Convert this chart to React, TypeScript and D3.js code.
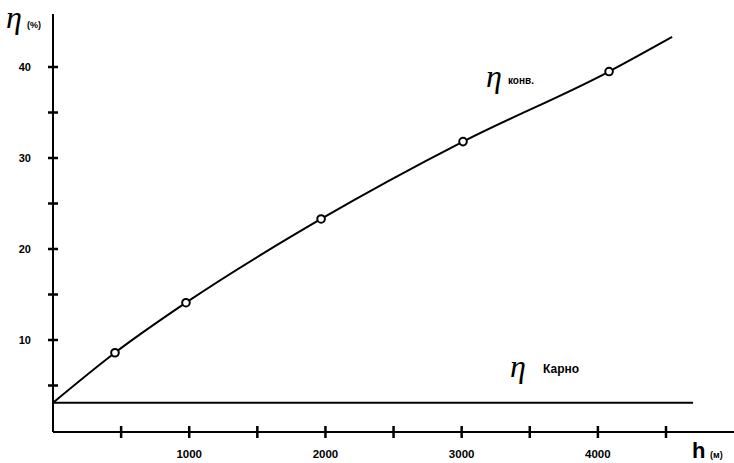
import * as d3 from "d3";

const W = 734;
const H = 463;

// efficiency curve (h in metres, eta in %)
const hValues = [0, 455, 976, 1968, 3010, 4082, 4545];
const etaValues = [3.1, 8.6, 14.1, 23.3, 31.8, 39.5, 43.3];
const markerIdx = [1, 2, 3, 4, 5];

const carnotValue = 3.1;
const xTicksMinor = [500, 1000, 1500, 2000, 2500, 3000, 3500, 4000, 4500];
const xTickLabels = [1000, 2000, 3000, 4000];
const yTicksMinor = [5, 10, 15, 20, 25, 30, 35, 40];
const yTickLabels = [10, 20, 30, 40];

export default function App() {
  const x = d3.scaleLinear().domain([0, 4500]).range([53, 666]);
  const y = d3.scaleLinear().domain([0, 45]).range([431, 21.5]);

  const pts = hValues.map((h, i) => ({ h, eta: etaValues[i] }));
  const line = d3
    .line<{ h: number; eta: number }>()
    .x((d) => x(d.h))
    .y((d) => y(d.eta))
    .curve(d3.curveMonotoneX);

  const axisY = 432;
  const sans = "Liberation Sans, Arial, sans-serif";
  const eta = "Liberation Serif, DejaVu Serif, serif";

  return (
    <svg
      width={W}
      height={H}
      style={{ position: "absolute", left: 0, top: 0, background: "#fff" }}
    >
      {/* axes */}
      <line x1={53} y1={14} x2={53} y2={axisY} stroke="#000" strokeWidth={2} />
      <line x1={53} y1={axisY} x2={734} y2={axisY} stroke="#000" strokeWidth={2} />

      {yTicksMinor.map((v) => (
        <line key={"yt" + v} x1={48} x2={58} y1={y(v)} y2={y(v)} stroke="#000" strokeWidth={2.5} />
      ))}
      {yTickLabels.map((v) => (
        <text
          key={"yl" + v}
          x={31}
          y={y(v) + 4}
          textAnchor="end"
          fontFamily={sans}
          fontWeight="bold"
          fontSize={11}
        >
          {v}
        </text>
      ))}

      {xTicksMinor.map((v) => (
        <line key={"xt" + v} x1={x(v)} x2={x(v)} y1={axisY - 6} y2={axisY + 6} stroke="#000" strokeWidth={2.5} />
      ))}
      {xTickLabels.map((v) => (
        <text
          key={"xl" + v}
          x={x(v)}
          y={458}
          textAnchor="middle"
          fontFamily={sans}
          fontWeight="bold"
          fontSize={11.5}
        >
          {v}
        </text>
      ))}

      {/* Carnot line */}
      <line
        x1={x(0)}
        x2={693}
        y1={y(carnotValue)}
        y2={y(carnotValue)}
        stroke="#000"
        strokeWidth={2}
      />

      {/* convective efficiency curve */}
      <path d={line(pts) || ""} fill="none" stroke="#000" strokeWidth={2} />
      {markerIdx.map((i) => (
        <circle
          key={"m" + i}
          cx={x(hValues[i])}
          cy={y(etaValues[i])}
          r={3.8}
          fill="#fff"
          stroke="#000"
          strokeWidth={2}
        />
      ))}

      {/* labels */}
      <text x={6} y={28} fontFamily={eta} fontStyle="italic" fontSize={32}>
        η
      </text>
      <text x={27} y={28} fontFamily={sans} fontWeight="bold" fontSize={9}>
        (%)
      </text>

      <text x={486} y={87} fontFamily={eta} fontStyle="italic" fontSize={32}>
        η
      </text>
      <text x={508} y={84} fontFamily={sans} fontWeight="bold" fontSize={10}>
        конв.
      </text>

      <text x={510} y={377} fontFamily={eta} fontStyle="italic" fontSize={32}>
        η
      </text>
      <text x={543} y={373} fontFamily={sans} fontWeight="bold" fontSize={12}>
        Карно
      </text>

      <text x={692} y={458} fontFamily={sans} fontWeight="bold" fontSize={22}>
        h
      </text>
      <text x={710} y={458} fontFamily={sans} fontWeight="bold" fontSize={9}>
        (м)
      </text>
    </svg>
  );
}
